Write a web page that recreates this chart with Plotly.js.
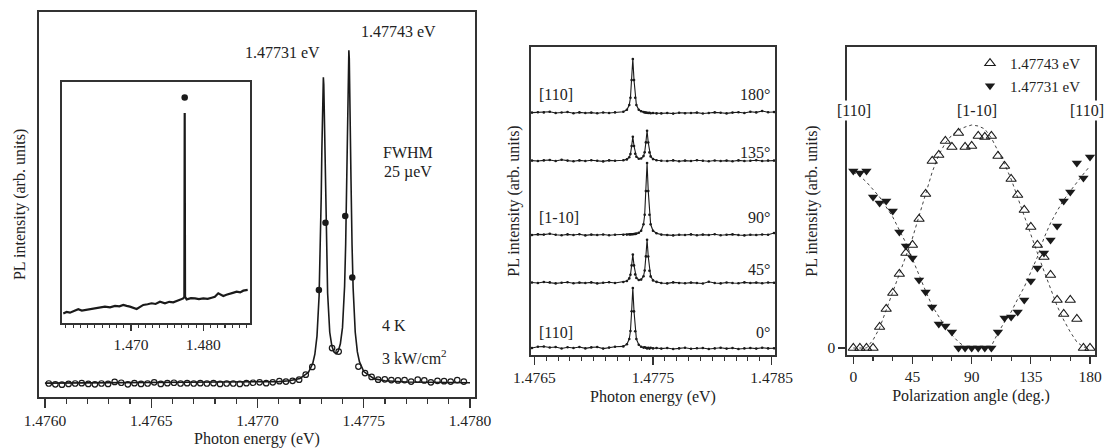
<!DOCTYPE html>
<html>
<head>
<meta charset="utf-8">
<script src="https://cdn.plot.ly/plotly-3.0.1.min.js"></script>
<style>html,body{margin:0;padding:0;background:#fff;}#chart{width:1104px;height:448px;}</style>
</head>
<body>
<div id="chart"></div>
<script>
// ---------- Left panel: PL spectrum (open circles = data, line = fit) ----------
const spectrumE = [1.476018,1.476049,1.476080,1.476111,1.476142,1.476173,1.476204,1.476235,1.476266,1.476297,
  1.476328,1.476359,1.476390,1.476421,1.476452,1.476483,1.476514,1.476545,1.476576,1.476607,
  1.476638,1.476669,1.476700,1.476731,1.476762,1.476793,1.476824,1.476855,1.476886,1.476917,
  1.476948,1.476979,1.477010,1.477041,1.477072,1.477103,1.477134,1.477165,1.477196,1.477227,
  1.477258,1.477351,1.477382,1.477475,1.477506,1.477537,1.477568,1.477599,1.477630,1.477661,
  1.477692,1.477723,1.477754,1.477785,1.477816,1.477847,1.477878,1.477909,1.477940,1.477971];
const spectrumI = [0.035,0.033,0.032,0.034,0.035,0.036,0.034,0.033,0.035,0.034,
  0.039,0.037,0.033,0.036,0.034,0.035,0.038,0.034,0.036,0.037,
  0.035,0.036,0.035,0.036,0.035,0.036,0.034,0.035,0.035,0.034,
  0.036,0.037,0.038,0.036,0.038,0.041,0.040,0.042,0.045,0.058,
  0.078,0.127,0.118,0.079,0.062,0.052,0.045,0.046,0.044,0.043,
  0.044,0.040,0.045,0.043,0.038,0.042,0.041,0.040,0.044,0.040];
// data points on the peak flanks (drawn filled)
const flankE = [1.477289,1.477320,1.477413,1.477446];
const flankI = [0.278,0.452,0.470,0.310];
// fitted curve
const fitE = [1.47600,1.47650,1.47700,1.47710,1.47715,1.47720,1.47724,1.47726,1.47727,1.47728,
  1.47729,1.477295,1.47730,1.477303,1.477306,1.477308,1.47731,1.477312,1.477314,1.477317,
  1.47732,1.477325,1.47733,1.47734,1.47735,1.47736,1.47737,1.47738,1.47739,1.47740,
  1.47741,1.477415,1.47742,1.477423,1.477426,1.477428,1.47743,1.477432,1.477434,1.477437,
  1.47744,1.477445,1.47745,1.47746,1.47747,1.47748,1.47750,1.47755,1.47760,1.47770,1.47800];
const fitI = [0.036,0.037,0.038,0.040,0.042,0.048,0.064,0.087,0.111,0.158,
  0.263,0.365,0.522,0.642,0.757,0.810,0.830,0.811,0.758,0.644,
  0.526,0.370,0.270,0.168,0.132,0.117,0.112,0.119,0.138,0.180,
  0.288,0.397,0.567,0.696,0.821,0.878,0.900,0.878,0.820,0.695,
  0.565,0.394,0.283,0.168,0.117,0.091,0.066,0.047,0.042,0.039,0.037];

// ---------- Inset: wide-range spectrum ----------
const insetE = [1.46064,1.46110,1.46156,1.46210,1.46271,1.46320,1.46364,1.46430,1.46502,1.46570,1.46640,
  1.46710,1.46779,1.46840,1.46894,1.46940,1.46986,1.47079,1.47120,1.47170,1.47230,1.47286,1.47340,1.47401,1.47470,1.47530,
  1.47585,1.47630,1.47678,1.47723,1.47738,1.47743,1.47748,1.47770,1.47830,1.47885,1.47940,
  1.48000,1.48060,1.48116,1.48160,1.48207,1.48277,1.48320,1.48369,1.48420,1.48462,1.48510,1.48553,1.48614];
const insetI = [0.041,0.047,0.044,0.052,0.058,0.053,0.055,0.060,0.062,0.066,0.069,
  0.066,0.072,0.070,0.076,0.072,0.069,0.059,0.066,0.076,0.079,0.083,0.080,0.089,0.083,0.089,
  0.087,0.092,0.096,0.103,0.110,0.870,0.110,0.099,0.104,0.103,0.100,
  0.103,0.101,0.106,0.110,0.124,0.113,0.118,0.121,0.127,0.131,0.128,0.135,0.138];
const insetTopE = [1.47743];
const insetTopI = [0.935];
const insetTickVals = [1.470,1.480];
const insetTickText = ['1.470','1.480'];

// ---------- Middle panel: polarization-resolved spectra ----------
const polE = [1.47648,1.47653,1.47658,1.47663,1.47668,1.47673,1.47678,1.47683,1.47688,1.47693,
  1.47698,1.47703,1.47708,1.47713,1.47718,
  1.47725,1.47728,1.47730,1.47731,1.47732,1.47733,1.47734,1.47735,1.47736,1.47738,
  1.47740,1.47742,1.47743,1.47744,1.47745,1.47746,1.47747,1.47748,1.47750,1.47753,
  1.47757,1.47762,1.47767,1.47772,1.47777,1.47782,1.47787,1.47792,1.47797,1.47802,
  1.47807,1.47812,1.47817,1.47822,1.47827,1.47832,1.47837,1.47842,1.47847,1.47852];
const pol0 = [0.000,0.012,0.015,0.005,0.010,-0.005,0.008,0.000,0.010,-0.004,0.006,0.010,-0.006,0.004,0.012,
  0.016,0.038,0.090,0.170,0.368,0.600,0.366,0.168,0.090,0.033,0.012,0.004,0.008,0.002,-0.004,0.002,-0.006,0.002,-0.004,0.000,
  -0.006,0.000,-0.010,-0.004,0.002,-0.008,-0.003,0.000,-0.010,-0.004,0.003,-0.006,0.000,-0.010,-0.004,0.000,-0.006,0.002,-0.004,-0.002];
const pol45 = [0.005,0.000,0.010,0.006,-0.004,0.003,0.008,-0.002,0.004,0.000,0.006,-0.004,0.002,0.008,0.000,
  0.010,0.020,0.046,0.082,0.176,0.284,0.176,0.086,0.050,0.030,0.034,0.068,0.125,0.266,0.433,0.265,0.122,0.066,0.026,0.011,
  0.000,-0.004,0.006,0.000,-0.003,0.004,0.000,-0.005,0.012,0.000,-0.004,0.005,0.000,-0.003,0.006,0.000,0.004,-0.002,0.005,0.002];
const pol90 = [0.000,0.006,0.004,0.012,0.002,-0.003,0.006,0.000,0.008,-0.004,0.004,0.000,0.005,-0.003,0.002,
  0.003,0.004,0.006,0.006,0.008,0.008,0.010,0.011,0.014,0.022,0.042,0.107,0.202,0.439,0.720,0.439,0.202,0.107,0.042,0.017,
  0.004,0.000,-0.004,0.003,0.000,0.006,-0.002,0.004,0.000,0.008,-0.003,0.002,0.006,0.000,-0.004,0.003,0.000,0.005,0.002,0.020];
const pol135 = [0.004,0.000,0.006,0.010,0.000,0.012,0.004,-0.002,0.006,0.000,0.008,0.002,-0.004,0.006,0.002,
  0.007,0.016,0.038,0.069,0.149,0.243,0.150,0.072,0.042,0.023,0.025,0.049,0.088,0.186,0.303,0.185,0.086,0.046,0.019,0.008,
  0.002,0.000,0.006,-0.003,0.004,0.000,0.008,0.002,-0.002,0.005,0.000,0.004,-0.003,0.006,0.000,0.003,0.008,0.000,0.004,0.004];
const pol180 = [0.004,0.008,0.006,0.012,0.000,0.005,0.010,-0.002,0.006,0.000,0.004,-0.003,0.005,0.000,0.006,
  0.013,0.032,0.080,0.152,0.329,0.540,0.329,0.152,0.080,0.032,0.017,0.010,0.006,0.004,0.002,0.000,0.002,-0.002,0.000,-0.004,
  -0.004,0.000,-0.006,0.003,-0.002,0.000,0.004,-0.005,0.000,0.006,0.003,-0.004,0.004,0.008,0.000,0.012,0.006,0.020,0.008,0.010];
const polSpectra = [pol0, pol45, pol90, pol135, pol180];
const polOffsets = [0.07, 0.72, 1.20, 1.94, 2.42];

// ---------- Right panel: intensity vs polarization angle ----------
const angles = [0,5,10,15,20,25,30,35,40,45,50,55,60,65,70,75,80,85,90,95,100,105,110,115,120,125,130,135,140,145,150,155,160,165,170,175,180];
const int1_47743 = [0,0,0,0,0.21,0.39,0.55,0.74,0.95,1.03,1.29,1.54,1.87,1.93,2.07,2.01,2.15,2.01,2.02,2.12,2.11,2.12,1.92,1.82,1.69,1.53,1.38,1.21,1.03,0.91,0.73,0.48,0.34,0.48,0.29,0,0];
const int1_47731 = [1.77,1.75,1.77,1.51,1.45,1.47,1.37,1.16,1.02,0.90,0.68,0.56,0.41,0.24,0.22,0.16,0,0,0,0,0,0,0.16,0.30,0.31,0.36,0.48,0.67,0.80,0.95,1.08,1.22,1.47,1.56,1.85,1.70,1.91];
const fit1_47743 = [0,0,0,0.08,0.20,0.38,0.57,0.74,0.92,1.10,1.32,1.55,1.76,1.93,2.05,2.13,2.18,2.21,2.23,2.22,2.19,2.10,1.97,1.84,1.69,1.50,1.32,1.13,0.95,0.77,0.59,0.42,0.28,0.16,0.06,0.01,0];
const fit1_47731 = [1.76,1.72,1.66,1.59,1.51,1.41,1.31,1.18,1.05,0.89,0.72,0.57,0.42,0.31,0.21,0.13,0.06,0.01,0,0,0,0.02,0.15,0.26,0.36,0.49,0.61,0.76,0.91,1.10,1.25,1.37,1.48,1.57,1.66,1.74,1.82];

// ---------- build ----------
const ink = '#1a1a1a';
const axc = '#333333';
const F = 'Liberation Serif, Times New Roman, serif';
const traces = [];
traces.push({x: fitE, y: fitI, xaxis:'x', yaxis:'y', mode:'lines', line:{color:ink, width:1.6}, showlegend:false, hoverinfo:'skip'});
traces.push({x: spectrumE, y: spectrumI, xaxis:'x', yaxis:'y', mode:'markers',
  marker:{symbol:'circle-open', size:5.5, color:ink, line:{width:1.2, color:ink}}, showlegend:false});
traces.push({x: flankE, y: flankI, xaxis:'x', yaxis:'y', mode:'markers',
  marker:{symbol:'circle', size:6.5, color:ink}, showlegend:false});
traces.push({x: insetE, y: insetI, xaxis:'x2', yaxis:'y2', mode:'lines', line:{color:ink, width:2.2}, showlegend:false});
traces.push({x: insetTopE, y: insetTopI, xaxis:'x2', yaxis:'y2', mode:'markers', marker:{symbol:'circle', size:6.5, color:ink}, showlegend:false});
polSpectra.forEach((s, i) => {
  traces.push({x: polE, y: s.map(v => v + polOffsets[i]), xaxis:'x3', yaxis:'y3', mode:'lines+markers',
    line:{color:ink, width:1.1}, marker:{size:2.6, color:ink}, showlegend:false});
});
traces.push({x: angles, y: fit1_47743, xaxis:'x4', yaxis:'y4', mode:'lines', line:{color:'#444', width:1, dash:'3px,3px'}, showlegend:false, hoverinfo:'skip'});
traces.push({x: angles, y: fit1_47731, xaxis:'x4', yaxis:'y4', mode:'lines', line:{color:'#444', width:1, dash:'3px,3px'}, showlegend:false, hoverinfo:'skip'});
traces.push({x: angles, y: int1_47743, xaxis:'x4', yaxis:'y4', mode:'markers', name:'1.47743 eV',
  marker:{symbol:'triangle-up-open', size:9, color:ink, line:{width:1.1, color:ink}}});
traces.push({x: angles, y: int1_47731, xaxis:'x4', yaxis:'y4', mode:'markers', name:'1.47731 eV',
  marker:{symbol:'triangle-down', size:9, color:ink}});

function frame(extra) {
  return Object.assign({showline:true, linecolor:axc, linewidth:1.6, mirror:true, showgrid:false, zeroline:false,
    tickcolor:axc, tickwidth:1.3, tickfont:{family:F, size:15.5, color:'#222'}}, extra);
}
const minorX = (d, t0, len) => ({dtick:d, tick0:t0, ticklen:len, ticks:'outside', tickcolor:axc, tickwidth:1.1});
const P = px => px / 1104;
const Q = py => 1 - py / 448;
const TF = {family:F, size:16, color:'#222'};

const layout = {
  width:1104, height:448, margin:{l:0, r:0, t:0, b:0},
  paper_bgcolor:'#fff', plot_bgcolor:'rgba(0,0,0,0)',
  font:{family:F, size:15, color:'#222'},
  xaxis: frame({domain:[P(39), P(475)], anchor:'y', range:[1.475972, 1.4780235], tickmode:'linear', tick0:1.476, dtick:0.0005,
    tickformat:'.4f', ticks:'outside', ticklen:9, minor:minorX(0.0001, 1.476, 5),
    title:{text:'Photon energy (eV)', font:TF, standoff:5}}),
  yaxis: frame({domain:[Q(397), Q(11.7)], anchor:'x', range:[0, 1], showticklabels:false, ticks:'',
    title:{text:'PL intensity (arb. units)', font:TF, standoff:8}}),
  xaxis2: frame({domain:[P(61.7), P(250)], anchor:'y2', range:[1.46042, 1.48646], tickmode:'array', tickvals:insetTickVals,
    ticktext:insetTickText, ticks:'outside', ticklen:6, minor:minorX(0.001, 1.46, 3.5), title:{text:''}}),
  yaxis2: frame({domain:[Q(323.3), Q(81.7)], anchor:'x2', range:[0, 1], showticklabels:false, ticks:'', title:{text:''}}),
  xaxis3: frame({domain:[P(531), P(775)], anchor:'y3', range:[1.476472, 1.478528], tickmode:'linear', tick0:1.4765, dtick:0.001,
    tickformat:'.4f', ticks:'outside', ticklen:8, minor:minorX(0.0001, 1.4765, 4),
    title:{text:'Photon energy (eV)', font:TF, standoff:5}}),
  yaxis3: frame({domain:[Q(355), Q(47)], anchor:'x3', range:[0, 3.08], showticklabels:false, ticks:'',
    title:{text:'PL intensity (arb. units)', font:TF, standoff:6}}),
  xaxis4: frame({domain:[P(847), P(1095)], anchor:'y4', range:[-4.8, 183.8], tickmode:'linear', tick0:0, dtick:45,
    ticks:'outside', ticklen:7, minor:minorX(15, 0, 4),
    title:{text:'Polarization angle (deg.)', font:TF, standoff:5}}),
  yaxis4: frame({domain:[Q(355), Q(47)], anchor:'x4', range:[-0.07, 3.01], tickmode:'array', tickvals:[0], ticktext:['0'],
    ticks:'outside', ticklen:7, title:{text:'PL intensity (arb. units)', font:TF, standoff:6}}),
  showlegend:true,
  legend:{x:P(970), y:Q(47), xanchor:'left', yanchor:'top', bgcolor:'rgba(0,0,0,0)', font:{family:F, size:15, color:'#222'},
    tracegroupgap:0, itemwidth:30},
  annotations:[
    {text:'1.47743 eV', x:P(398), y:Q(32)},
    {text:'1.47731 eV', x:P(283), y:Q(53)},
    {text:'FWHM', x:P(408), y:Q(152)},
    {text:'25 µeV', x:P(408), y:Q(172)},
    {text:'4 K', x:P(380), y:Q(325), xanchor:'left'},
    {text:'3 kW/cm<sup>2</sup>', x:P(380), y:Q(357), xanchor:'left'},
    {text:'[110]', x:P(537), y:Q(95), xanchor:'left'},
    {text:'180°', x:P(772), y:Q(95), xanchor:'right'},
    {text:'135°', x:P(772), y:Q(152), xanchor:'right'},
    {text:'[1-10]', x:P(537), y:Q(218), xanchor:'left'},
    {text:'90°', x:P(772), y:Q(218), xanchor:'right'},
    {text:'45°', x:P(772), y:Q(269), xanchor:'right'},
    {text:'[110]', x:P(537), y:Q(332), xanchor:'left'},
    {text:'0°', x:P(772), y:Q(332), xanchor:'right'},
    {text:'[110]', x:P(854), y:Q(110), bgcolor:'#fff'},
    {text:'[1-10]', x:P(977), y:Q(110)},
    {text:'[110]', x:P(1087), y:Q(110), bgcolor:'#fff'}
  ].map(a => Object.assign({xref:'paper', yref:'paper', showarrow:false, xanchor:'center', yanchor:'middle',
    font:{family:F, size:16, color:'#222'}}, a))
};

Plotly.newPlot('chart', traces, layout, {staticPlot:true, displayModeBar:false});
</script>
</body>
</html>
